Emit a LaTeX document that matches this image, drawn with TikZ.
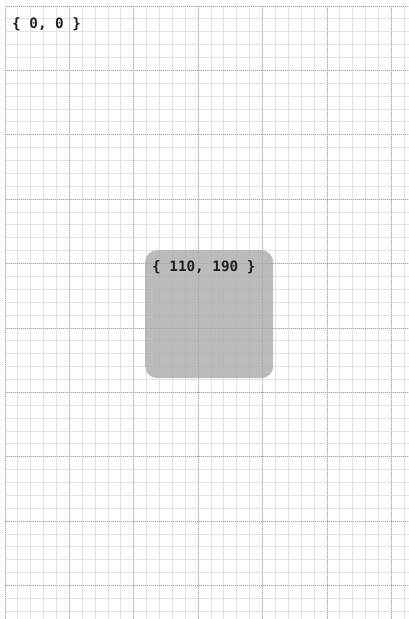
\documentclass[tikz,border=0pt]{standalone}
\usepackage{fontspec}
\setmonofont{DejaVu Sans Mono}
\begin{document}
\begin{tikzpicture}[x=1pt,y=-1pt,
  minorline/.style={draw={rgb,255:red,226;green,226;blue,226},line width=1pt},
  majorline/.style={draw={rgb,255:red,165;green,165;blue,165},line width=1pt,dash pattern=on 1pt off 1pt},
  coordlabel/.style={font=\fontsize{14.3}{16}\selectfont\ttfamily\bfseries,text=black!88,inner sep=0pt},
  graybox/.style={draw=none,fill={rgb,255:red,170;green,170;blue,170},fill opacity=0.8,rounded corners=12pt,minimum width=128pt,minimum height=128pt,inner sep=0pt}]
\useasboundingbox[fill=white] (0,0) rectangle (409,619);
% minor grid
\foreach \i in {0,...,31} { \draw[minorline] ({5+\i*12.88},6) -- ({5+\i*12.88},619); }
\foreach \j in {0,...,47} { \draw[minorline] (5,{6+\j*12.88}) -- (409,{6+\j*12.88}); }
% major grid
\foreach \i in {0,...,6} { \draw[majorline] ({5+\i*64.4},6) -- ({5+\i*64.4},619); }
\foreach \j in {0,...,9} { \draw[majorline] (5,{6+\j*64.4}) -- (409,{6+\j*64.4}); }
% labels and box
\node[coordlabel,anchor=base west] (origin) at (12,28) {\{ 0, 0 \}};
\node[graybox,anchor=north west] (box) at (145,250) {};
\node[coordlabel,anchor=base west] (boxlabel) at (152,271) {\{ 110, 190 \}};
\end{tikzpicture}
\end{document}
